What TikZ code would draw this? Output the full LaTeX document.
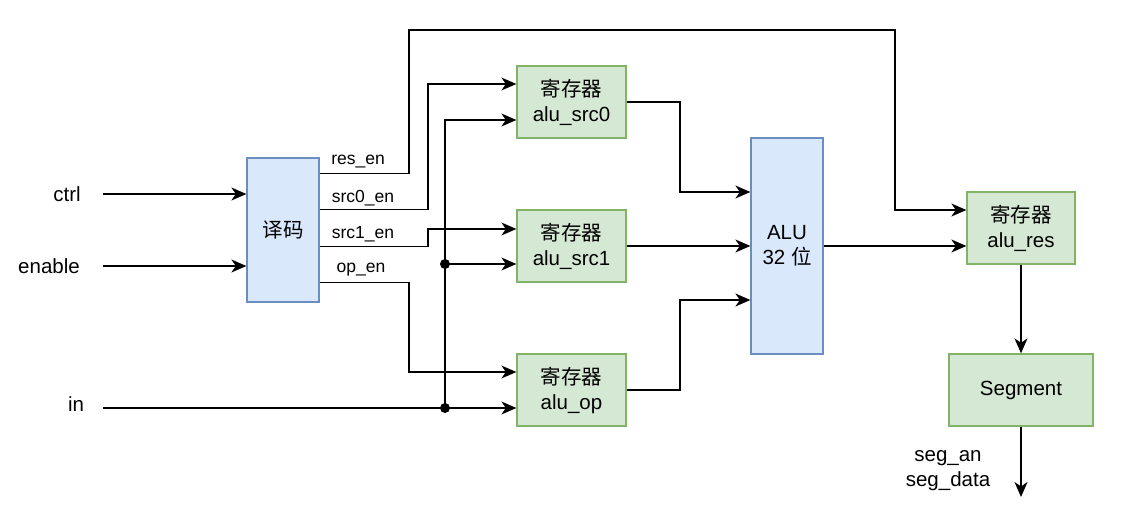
\documentclass[tikz,border=0pt]{standalone}
\usepackage{fontspec}
\setmainfont{Liberation Sans}
\newfontfamily\cjk{Noto Sans CJK SC}
\usetikzlibrary{arrows.meta,calc}
\definecolor{bfill}{HTML}{DAE8FC}
\definecolor{bline}{HTML}{6C8EBF}
\definecolor{gfill}{HTML}{D5E8D4}
\definecolor{gline}{HTML}{82B366}
\tikzset{
  bluebox/.style={draw=bline,fill=bfill,line width=1.3pt,align=center,inner sep=0pt,font=\fontsize{20.5}{25}\selectfont},
  regbox/.style={draw=gline,fill=gfill,line width=1.3pt,align=center,inner sep=0pt,minimum width=109pt,minimum height=72pt,font=\fontsize{20.5}{25}\selectfont},
  wire/.style={line width=1.4pt,-{Stealth[length=15pt,width=13pt,inset=4.5pt]}},
  lbl/.style={font=\fontsize{20.5}{25}\selectfont,align=center,inner sep=0pt},
  elbl/.style={font=\fontsize{17.5}{20}\selectfont,inner sep=0pt},
  dot/.style={circle,fill=black,inner sep=0pt,minimum size=10pt}
}
\begin{document}
\begin{tikzpicture}[x=1pt,y=-1pt]
\useasboundingbox (0,0) rectangle (1134,529);
% nodes
\node[bluebox,minimum width=72pt,minimum height=144pt] (dec) at (283,230) {{\cjk 译码}};
\node[regbox] (src0) at (571.5,102) {{\cjk 寄存器}\\alu\_src0};
\node[regbox] (src1) at (571.5,246) {{\cjk 寄存器}\\alu\_src1};
\node[regbox] (op) at (571.5,390) {{\cjk 寄存器}\\alu\_op};
\node[bluebox,minimum width=72pt,minimum height=216pt] (alu) at (787,246) {ALU\\32 {\cjk 位}};
\node[regbox,minimum width=108pt] (res) at (1021,228) {{\cjk 寄存器}\\alu\_res};
\node[regbox,minimum width=144pt] (seg) at (1021,390) {Segment};
% input labels
\node[lbl] (ctrlL) at (67,194) {ctrl};
\node[lbl] (enL) at (49,266) {enable};
\node[lbl] (inL) at (76,404) {in};
\node[lbl] (segL) at (948,471) {seg\_an\\seg\_data};
% coordinates
\coordinate (ctrlS) at (103,194);
\coordinate (enS) at (103,266);
\coordinate (inS) at (103,408);
\coordinate (segE) at (1021,497);
\coordinate (xa) at (428,0);
\coordinate (xb) at (409,0);
\coordinate (xbus) at (445,0);
\coordinate (xc) at (680,0);
\coordinate (t1) at (409,30);
\coordinate (t2) at (895,30);
\coordinate (dres) at ([yshift=-16pt]dec.north east);
\coordinate (ds0) at ([yshift=-52pt]dec.north east);
\coordinate (ds1) at ([yshift=-89pt]dec.north east);
\coordinate (dop) at ([yshift=-125pt]dec.north east);
\coordinate (s0a) at ([yshift=18pt]src0.west);
\coordinate (s0b) at ([yshift=-18pt]src0.west);
\coordinate (s1a) at ([yshift=17pt]src1.west);
\coordinate (s1b) at ([yshift=-18pt]src1.west);
\coordinate (opa) at ([yshift=18pt]op.west);
\coordinate (opb) at ([yshift=-18pt]op.west);
\coordinate (a1) at ([yshift=54pt]alu.west);
\coordinate (a3) at ([yshift=-54pt]alu.west);
\coordinate (ra) at ([yshift=18pt]res.west);
\coordinate (rb) at ([yshift=-18pt]res.west);
% inputs
\draw[wire] (ctrlS) -- (dec.west |- ctrlS);
\draw[wire] (enS) -- (dec.west |- enS);
\draw[wire] (inS) -- (opb);
% decoder outputs
\draw[wire] (dres) -| (t1) -- (t2) |- (ra);
\draw[wire] (ds0) -| (xa |- s0a) -- (s0a);
\draw[wire] (ds1) -| (xa |- s1a) -- (s1a);
\draw[wire] (dop) -| (xb |- opa) -- (opa);
% edge labels
\node[elbl] at (358,162) {res\_en};
\node[elbl] at (363,198) {src0\_en};
\node[elbl] at (363,234) {src1\_en};
\node[elbl] at (361,270) {op\_en};
% bus
\node[dot] (j1) at (xbus |- inS) {};
\node[dot] (j2) at (xbus |- s1b) {};
\draw[wire] (j1.center) |- (s0b);
\draw[wire] (j2.center) -- (s1b);
% ALU inputs
\draw[wire] (src0.east) -| (xc |- a1) -- (a1);
\draw[wire] (src1.east) -- (alu.west);
\draw[wire] (op.east) -| (xc |- a3) -- (a3);
% ALU output
\draw[wire] (alu.east) -- (rb);
\draw[wire] (res.south) -- (seg.north);
\draw[wire] (seg.south) -- (segE);
\end{tikzpicture}
\end{document}
